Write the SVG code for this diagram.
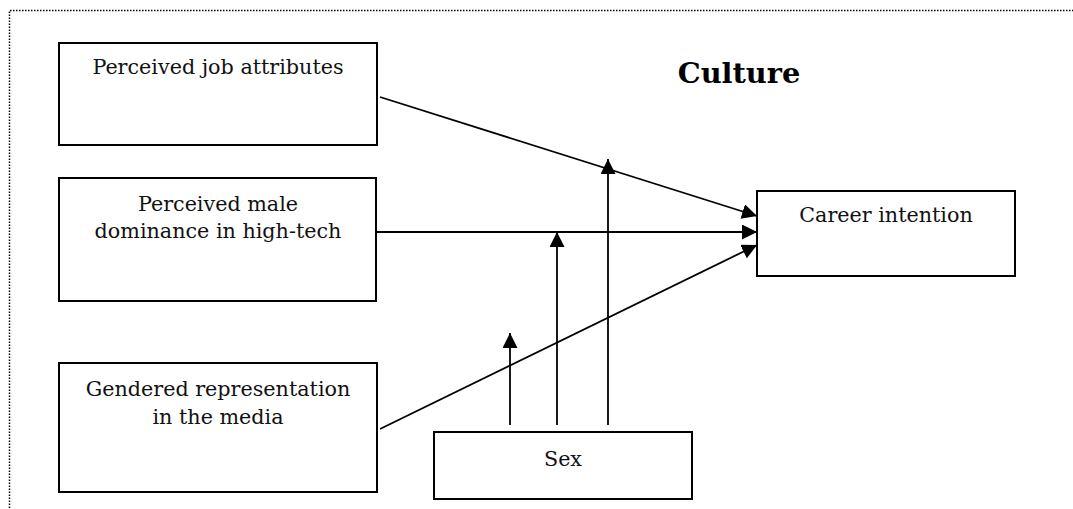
<svg xmlns="http://www.w3.org/2000/svg" width="1073" height="509" viewBox="0 0 1073 509">
<style>
.box{fill:#fff;stroke:#000;stroke-width:2}
.t{font-family:"DejaVu Serif","Liberation Serif",serif;font-size:20.7px;fill:#111;text-anchor:middle}
.title{font-family:"DejaVu Serif","Liberation Serif",serif;font-size:28.8px;font-weight:bold;fill:#000;text-anchor:middle}
.c{stroke:#000;stroke-width:1.8;fill:none;marker-end:url(#ah)}
</style>
<defs>
<marker id="ah" viewBox="0 0 10 10" refX="10" refY="5" markerWidth="15" markerHeight="15" markerUnits="userSpaceOnUse" orient="auto">
<path d="M0,0 L10,5 L0,10 Z" fill="#000"/>
</marker>
</defs>
<rect width="1073" height="509" fill="#fff"/>
<path d="M9.5,520 L9.5,10.5 L1080,10.5" fill="none" stroke="#000" stroke-width="1.5" stroke-dasharray="1.5,1.5"/>
<text class="title" x="739" y="83">Culture</text>
<g id="connectors">
<line class="c" x1="380" y1="97" x2="757" y2="216"/>
<line class="c" x1="377" y1="232" x2="757" y2="232"/>
<line class="c" x1="380" y1="429" x2="757" y2="245"/>
<line class="c" x1="608" y1="425" x2="608" y2="159"/>
<line class="c" x1="557" y1="425" x2="557" y2="232"/>
<line class="c" x1="510" y1="425" x2="510" y2="333"/>
</g>
<g id="n1">
<rect class="box" x="59" y="43" width="318" height="102"/>
<text class="t" x="218" y="74">Perceived job attributes</text>
</g>
<g id="n2">
<rect class="box" x="59" y="178" width="317" height="123"/>
<text class="t" x="218" y="211">Perceived male</text>
<text class="t" x="218" y="238">dominance in high-tech</text>
</g>
<g id="n3">
<rect class="box" x="59" y="363" width="318" height="129"/>
<text class="t" x="218" y="396">Gendered representation</text>
<text class="t" x="218" y="424">in the media</text>
</g>
<g id="n4">
<rect class="box" x="757" y="191" width="258" height="85"/>
<text class="t" x="886" y="222">Career intention</text>
</g>
<g id="n5">
<rect class="box" x="434" y="432" width="258" height="67"/>
<text class="t" x="563" y="466">Sex</text>
</g>
</svg>
